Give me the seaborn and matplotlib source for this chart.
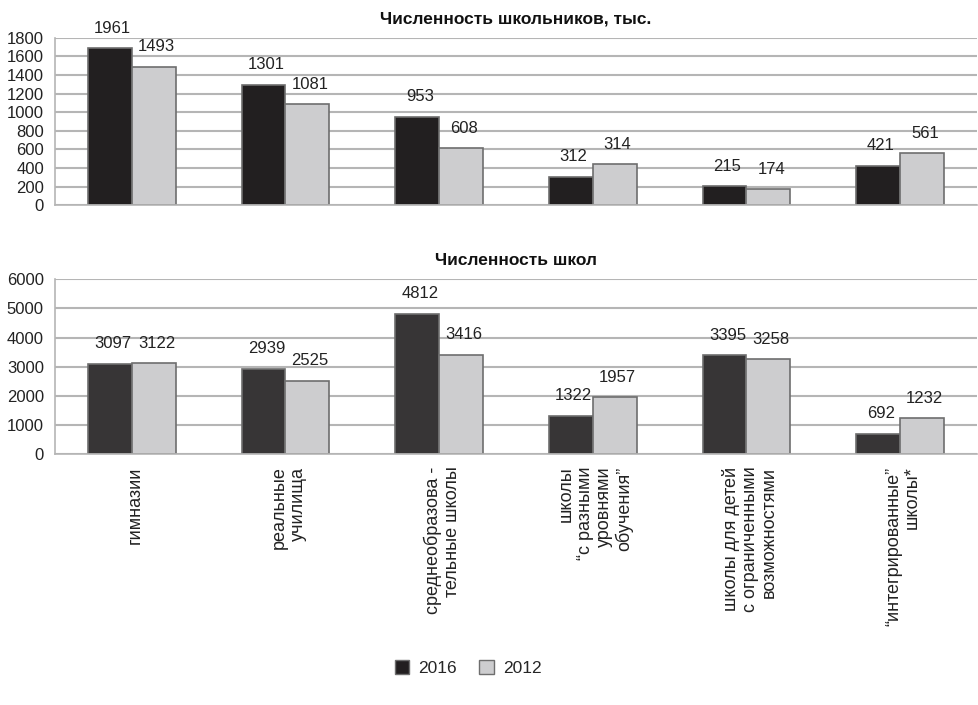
import pandas as pd
import seaborn as sns
import matplotlib.pyplot as plt
from matplotlib.patches import Patch

# data
categories = [
    'гимназии',
    'реальные\nучилища',
    'среднеобразова -\nтельные школы',
    'школы\n“с разными\nуровнями\nобучения”',
    'школы для детей\nс ограниченными\nвозможностями',
    '“интегрированные”\nшколы*',
]
years = ['2016', '2012']

# pupils, thousands: drawn bar heights and the printed labels (they differ in the source)
pupils_2016 = [1686, 1291, 950, 304, 204, 420]
pupils_2012 = [1488, 1083, 610, 438, 172, 556]
pupils_lbl_2016 = [1961, 1301, 953, 312, 215, 421]
pupils_lbl_2012 = [1493, 1081, 608, 314, 174, 561]

# number of schools
schools_2016 = [3097, 2939, 4812, 1322, 3395, 692]
schools_2012 = [3122, 2525, 3416, 1957, 3258, 1232]

FONT = ['Liberation Sans', 'DejaVu Sans']

sns.set_theme(style='white')
plt.rcParams['font.family'] = FONT


def make_df(v16, v12):
    return pd.DataFrame({
        'cat': list(range(len(categories))) * 2,
        'year': ['2016'] * len(v16) + ['2012'] * len(v12),
        'value': list(v16) + list(v12),
    })


def draw(ax, v16, v12, l16, l12, dark, ymax, ystep, title):
    sns.barplot(data=make_df(v16, v12), x='cat', y='value', hue='year',
                hue_order=years, palette=[dark, '#cdcdcf'], width=0.57,
                edgecolor='#6e6e6e', linewidth=1.2, legend=False, ax=ax,
                native_scale=True)
    for cont, labels in zip(ax.containers, [l16, l12]):
        for bar, lab in zip(cont, labels):
            ax.annotate(str(lab), (bar.get_x() + bar.get_width() / 2, bar.get_height()),
                        xytext=(2, 14.5), textcoords='offset points',
                        ha='center', va='center', fontsize=12, color='#222222')
    ax.set_xlim(-0.5, len(categories) - 0.5)
    ax.set_ylim(0, ymax)
    ax.set_yticks(range(0, ymax + 1, ystep))
    ax.set_xticks([i - 0.5 for i in range(len(categories) + 1)])
    ax.set_xticklabels([])
    ax.tick_params(axis='x', direction='out', length=5, width=1, color='#b5b5b5')
    ax.tick_params(axis='y', direction='out', length=5, width=1, color='#b5b5b5',
                   labelsize=12, pad=3, labelcolor='#222222')
    ax.grid(axis='y', color='#b5b5b5', linewidth=1.5)
    ax.set_axisbelow(True)
    for s in ['top', 'right']:
        ax.spines[s].set_visible(False)
    for s in ['left', 'bottom']:
        ax.spines[s].set_color('#b5b5b5')
        ax.spines[s].set_linewidth(1.2)
    ax.set_xlabel('')
    ax.set_ylabel('')
    ax.set_title(title, fontsize=12.5, fontweight='bold', pad=10, color='#111111')


fig = plt.figure(figsize=(9.79, 7.05), dpi=100)
left = 55 / 979
width = (977 - 55) / 979
ax1 = fig.add_axes([left, 0.709, width, 0.2375])
ax2 = fig.add_axes([left, 0.3556, width, 0.2482])

draw(ax1, pupils_2016, pupils_2012, pupils_lbl_2016, pupils_lbl_2012,
     '#221f20', 1800, 200, 'Численность школьников, тыс.')
draw(ax2, schools_2016, schools_2012, schools_2016, schools_2012,
     '#373536', 6000, 1000, 'Численность школ')

# category labels under the lower chart
for i, cat in enumerate(categories):
    ax2.text(i + 0.02, -0.07, cat, transform=ax2.get_xaxis_transform(), rotation=90,
             ha='center', va='top', multialignment='right', fontsize=13,
             linespacing=1.15, color='#222222')

handles = [Patch(facecolor='#221f20', edgecolor='#6e6e6e'),
           Patch(facecolor='#cdcdcf', edgecolor='#6e6e6e')]
fig.legend(handles, years, loc='center', bbox_to_anchor=(468 / 979, 1 - 668 / 705),
           ncol=2, frameon=False, fontsize=12.5, handlelength=0.85, handleheight=0.85,
           columnspacing=1.3, handletextpad=0.5)

fig.savefig('out.png', dpi=100)
